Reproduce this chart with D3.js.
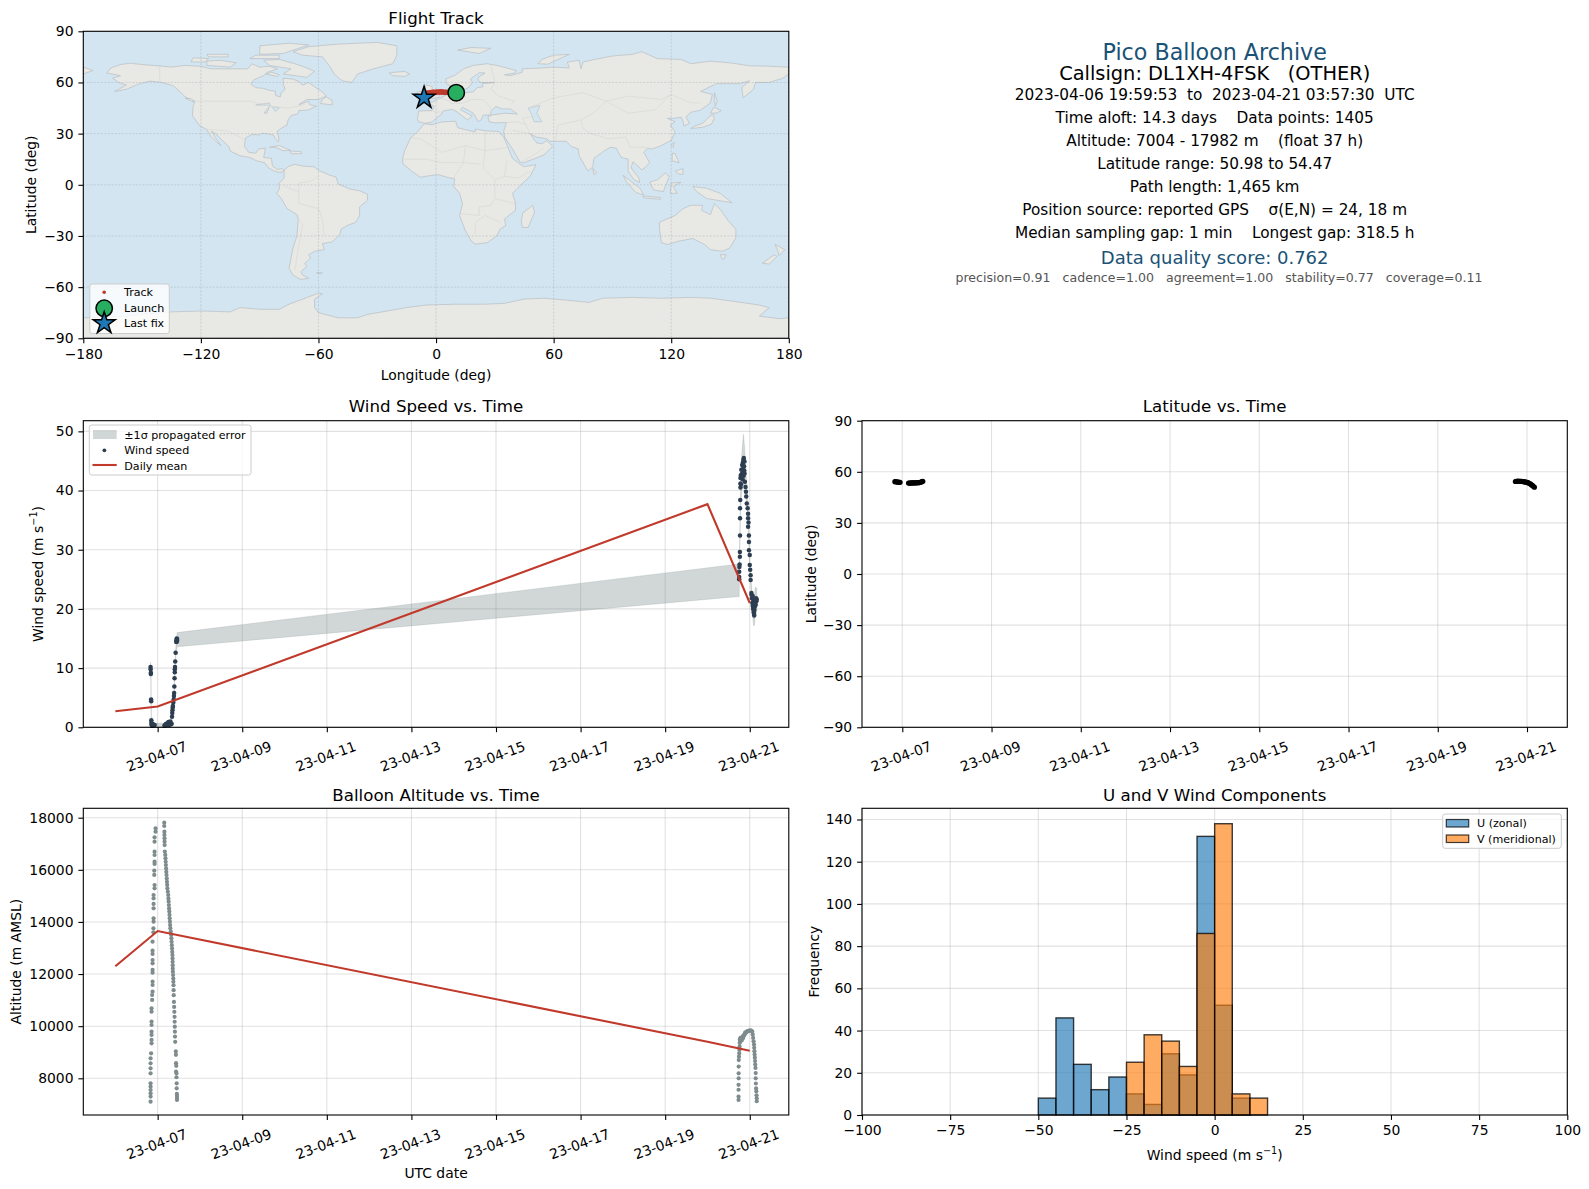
<!DOCTYPE html>
<html lang="en">
<head>
    <meta charset="UTF-8">
    <title>Pico Balloon Archive</title>
    <script src="https://d3js.org/d3.v7.min.js"></script>
    <style>
        body { margin: 0; background: #fff; }
        svg { display: block; }
        text { font-family: "DejaVu Sans", sans-serif; fill: #000; }
        .tick text { font-size: 13.9px; }
        .tick line { stroke: #000; stroke-width: 1.1px; }
        .axis .domain { display: none; }
        .grid { stroke: #b0b0b0; stroke-opacity: 0.38; stroke-width: 1.1px; }
        .frame { fill: none; stroke: #000; stroke-width: 1.1px; }
        .legendbox { fill: #fff; fill-opacity: 0.8; stroke: #ccc; stroke-width: 1px; }
        .legendtext { font-size: 11.1px; }
    </style>
</head>
<body>
<div id="chart"></div>
<script>
// days are counted from 2023-04-06 00:00 UTC
const dateTicks = ["2023-04-07", "2023-04-09", "2023-04-11", "2023-04-13", "2023-04-15", "2023-04-17", "2023-04-19", "2023-04-21"];
const lonTicks = [-180, -120, -60, 0, 60, 120, 180];
const latTicks = [-90, -60, -30, 0, 30, 60, 90];
const windTicks = [0, 10, 20, 30, 40, 50];
const altTicks = [8000, 10000, 12000, 14000, 16000, 18000];
const histXTicks = [-100, -75, -50, -25, 0, 25, 50, 75, 100];
const histYTicks = [0, 20, 40, 60, 80, 100, 120, 140];

const meanDay = [0, 1, 14, 15];
const meanWind = [2.7, 3.5, 37.7, 21.0];
const meanAlt = [12300, 13650, 9400, 9060];

const windDay = [0.832, 0.834, 0.838, 0.84, 0.845, 0.847, 0.85, 0.853, 0.857, 0.862, 0.87, 0.88, 0.89, 0.9, 0.915, 0.93,
    1.16, 1.175, 1.19, 1.2, 1.215, 1.23, 1.24, 1.255, 1.27, 1.28, 1.29, 1.3, 1.315, 1.33,
    1.34, 1.345, 1.35, 1.355, 1.36, 1.37, 1.38, 1.385, 1.39, 1.395, 1.4, 1.405, 1.405, 1.41, 1.415, 1.425, 1.44, 1.445, 1.45, 1.45, 1.455, 1.455, 1.46,
    14.75, 14.75, 14.75, 14.755, 14.76, 14.766, 14.766, 14.77, 14.77, 14.77, 14.775, 14.78, 14.78, 14.78, 14.79, 14.79, 14.8, 14.81, 14.82, 14.83, 14.83, 14.84, 14.845, 14.85, 14.855, 14.86, 14.865, 14.87, 14.875,
    14.877, 14.885, 14.9, 14.91, 14.916, 14.93, 14.95, 14.96, 14.96, 14.96, 14.97, 14.98, 14.98, 14.98, 15.0, 15.0, 15.01, 15.02, 15.02, 15.04,
    15.04, 15.05, 15.06, 15.07, 15.08, 15.09, 15.1, 15.105, 15.11, 15.12, 15.125, 15.13, 15.14, 15.15, 15.155, 15.165, 15.1, 15.08, 15.07];
const windSpeed = [10.2, 9.8, 9.0, 9.2, 4.7, 4.4, 1.2, 0.8, 0.5, 0.3, 0.45, 0.3, 0.5, 0.35, 0.4, 0.4,
    0.25, 0.4, 0.35, 0.6, 0.5, 0.4, 0.7, 0.9, 0.4, 0.6, 0.8, 1.0, 0.5, 0.6,
    1.8, 2.4, 2.9, 3.3, 3.6, 4.2, 4.7, 5.3, 5.8, 6.9, 8.3, 9.3, 9.8, 10.2, 11.1, 12.6, 14.4, 14.6, 14.8, 15.0, 14.7, 14.5, 14.9,
    25.0, 25.4, 26.3, 27.1, 27.5, 28.8, 29.6, 32.4, 35.3, 37.0, 38.4, 40.5, 41.2, 42.1, 42.6, 41.0, 43.5, 42.8, 44.3, 43.6, 41.9, 44.8, 43.0, 45.2, 42.5, 45.5, 44.1, 43.4, 44.9,
    42.9, 41.5, 40.6, 39.8, 39.0, 37.8, 37.0, 36.1, 35.3, 33.9, 34.6, 32.4, 31.3, 29.9, 29.1, 27.4, 26.6, 25.7, 24.9, 22.7,
    22.4, 21.8, 21.0, 20.5, 20.0, 19.5, 19.2, 18.9, 19.8, 20.4, 21.2, 21.5, 20.7, 21.8, 21.3, 21.6, 20.8, 21.6, 22.2];

const bandDay = [0.832, 0.84, 0.845, 0.85, 0.86, 0.93, 1.16, 1.33, 1.35, 1.39, 1.41, 1.43, 1.46, 14.75, 14.76, 14.78, 14.81, 14.85, 14.875, 14.9, 14.95, 15.0, 15.03, 15.05, 15.09, 15.11, 15.13, 15.165];
const bandLow = [9, 8, 3.8, 0.4, 0, 0, 0, 0.1, 2, 5, 9.3, 12, 13.6, 22.1, 27, 37, 40, 41, 40.5, 39.5, 36.3, 26.8, 23, 20.5, 17.2, 17.2, 19, 19.5];
const bandHigh = [11, 10.3, 5.4, 2, 0.9, 0.7, 0.7, 1.2, 3.8, 6.6, 11, 13.6, 16, 27.6, 30.5, 40, 46, 49.5, 47.5, 44, 38.5, 28.5, 25, 23, 21.5, 22, 23.7, 23.5];

const altDay = [0.951, 0.951, 0.927, 0.927, 0.927, 0.927, 0.927, 0.927, 0.92, 0.92, 0.927, 0.927, 0.904, 0.904, 0.904, 0.904, 0.904, 0.904, 0.9, 0.9, 0.88, 0.88, 0.88, 0.88, 0.88, 0.88, 0.88, 0.88, 0.88, 0.88, 0.87, 0.87, 0.856, 0.856, 0.856, 0.856, 0.856, 0.856, 0.856, 0.856, 0.845, 0.833, 0.833, 0.833, 0.833, 0.833, 0.833, 0.833, 0.833, 0.833, 0.833,
    1.156, 1.156, 1.16, 1.16, 1.163, 1.163, 1.165, 1.17, 1.18, 1.185, 1.19, 1.195, 1.2, 1.205, 1.21, 1.215, 1.22, 1.225, 1.23, 1.24, 1.25, 1.255, 1.26, 1.265, 1.27, 1.275, 1.28, 1.285, 1.29, 1.295, 1.3, 1.31, 1.32, 1.325, 1.33, 1.335, 1.34, 1.345, 1.35, 1.352, 1.354, 1.356, 1.358, 1.36, 1.365, 1.37, 1.372, 1.375, 1.377, 1.38, 1.385, 1.39, 1.395, 1.4, 1.402, 1.405, 1.408, 1.41, 1.415, 1.43, 1.432, 1.435, 1.435, 1.44, 1.445, 1.445, 1.45, 1.45, 1.455, 1.457, 1.457, 1.457,
    14.735, 14.735, 14.735, 14.735, 14.737, 14.737, 14.738, 14.74, 14.745, 14.75, 14.755, 14.76, 14.762, 14.765, 14.77, 14.775, 14.78, 14.79, 14.8, 14.81, 14.82, 14.83, 14.84, 14.85, 14.86, 14.87, 14.88, 14.89, 14.9, 14.92, 14.94, 14.96, 14.98, 15.0, 15.02, 15.04, 15.06, 15.07, 15.08, 15.09, 15.1, 15.105, 15.11, 15.115, 15.12, 15.125, 15.13, 15.135, 15.14, 15.14, 15.145, 15.15, 15.155, 15.16, 15.165, 15.165];
const altValue = [17592, 17465, 17247, 17081, 16697, 16569, 16313, 16224, 15968, 15802, 15418, 15290, 15034, 14906, 14689, 14523, 14139, 14011, 13755, 13602, 13244, 12899, 12771, 12540, 12412, 12157, 12054, 11709, 11581, 11325, 11197, 11006, 10686, 10558, 10174, 10046, 9790, 9663, 9471, 9343, 8959, 8767, 8575, 8384, 8192, 7808, 7680, 7551, 7424, 7300, 7102,
    17810, 17680, 17465, 17340, 17210, 17080, 16950, 16700, 16570, 16440, 16310, 16180, 16050, 15920, 15800, 15670, 15540, 15420, 15290, 15160, 15030, 14900, 14780, 14650, 14520, 14400, 14270, 14140, 14010, 13880, 13760, 13630, 13500, 13370, 13240, 13110, 12980, 12850, 12730, 12600, 12470, 12340, 12210, 12090, 11960, 11830, 11700, 11570, 11380, 11190, 10930, 10740, 10550, 10360, 10170, 9980, 9790, 9600, 9400, 9030, 8900, 8580, 8260, 8480, 8190, 8040, 7808, 7616, 7400, 7321, 7240, 7167,
    7170, 7300, 7560, 7750, 8000, 8190, 8450, 8700, 8830, 8960, 9090, 9220, 9350, 9480, 9400, 9540, 9500, 9540, 9560, 9450, 9540, 9600, 9540, 9620, 9660, 9640, 9700, 9750, 9730, 9780, 9800, 9810, 9830, 9820, 9840, 9820, 9790, 9680, 9550, 9420, 9300, 9170, 9040, 8910, 8790, 8660, 8530, 8400, 8200, 8000, 7800, 7610, 7500, 7350, 7230, 7120];

const latDay = [0.834, 0.85, 0.87, 0.89, 0.91, 0.93, 0.95, 1.14, 1.16, 1.18, 1.2, 1.22, 1.24, 1.26, 1.28, 1.3, 1.32, 1.34, 1.36, 1.38, 1.4, 1.42, 1.44, 1.46,
    14.74, 14.76, 14.78, 14.8, 14.82, 14.84, 14.86, 14.88, 14.9, 14.92, 14.94, 14.96, 14.98, 15.0, 15.02, 15.04, 15.06, 15.08, 15.1, 15.12, 15.14, 15.165];
const latValue = [54.2, 54.15, 54.1, 54.0, 53.9, 53.85, 53.8, 53.4, 53.4, 53.4, 53.45, 53.45, 53.45, 53.5, 53.5, 53.55, 53.55, 53.6, 53.6, 53.7, 53.8, 53.95, 54.2, 54.4,
    54.3, 54.4, 54.45, 54.47, 54.45, 54.4, 54.4, 54.35, 54.3, 54.2, 54.1, 54.0, 53.9, 53.8, 53.6, 53.4, 53.1, 52.8, 52.4, 52.0, 51.5, 50.98];

const trackLon = [10.3, 9.5, 8.5, 7.5, 6.5, 5.5, 4.5, 3.5, 2.5, 1.5, 0.5, -0.5, -1.5, -2.5, -3.5, -4.5, -5.2, -5.6, -5.9, -6.1];
const trackLat = [54, 54, 54.1, 54.2, 54.2, 54.3, 54.3, 54.4, 54.47, 54.4, 54.4, 54.3, 54.2, 54.1, 54, 53.7, 53.1, 52.5, 51.7, 50.98];

const histEdges = [-50, -45, -40, -35, -30, -25, -20, -15, -10, -5, 0, 5, 10, 15];
const histU = [8, 46, 24, 12, 18, 10, 5, 29, 19, 132, 52, 8, 0];
const histV = [0, 0, 0, 0, 0, 25, 38, 35, 23, 86, 138, 10, 8];

const landPolys = [
    // north america
    [[-168,65.5],[-166,68.5],[-161,70.5],[-156,71.3],[-150,70.5],[-141,69.7],[-135,69],[-128,70],[-120,69.5],[-115,68],[-108,68],[-100,68],[-96,68],[-94,71],[-90,69],[-85,69.5],[-81,68],[-86,66],[-88,64],[-93,61.5],[-94.5,59],[-92,57],[-88,56.5],[-85,55.3],[-82,55],[-82,52.5],[-79.5,51.5],[-79,54],[-77,56],[-78,59],[-78,62.5],[-73,62],[-70,60.5],[-68,58.5],[-65,60],[-62,57.5],[-58,54.5],[-56,52],[-60,50],[-66,50],[-70,47],[-65,49],[-64.5,47],[-61,46],[-65.5,43.8],[-70,43.5],[-70.5,41.7],[-74,40.5],[-75.5,38],[-76,35],[-78,33.8],[-81,31.5],[-80.2,27],[-80.5,25.2],[-82,27],[-83,29.2],[-85,29.7],[-89,30.2],[-90,29.2],[-94,29.5],[-97.2,27.5],[-97.8,22.5],[-95.5,19],[-92,18.5],[-90.5,21],[-87,21.5],[-88,16],[-84,15.5],[-83.5,11],[-81,9],[-79,9.5],[-77.5,8.7],[-78.5,7.5],[-80.5,7.3],[-83,8.3],[-85.5,10],[-87.5,13],[-91.5,14],[-95,16],[-100,17],[-105,19.7],[-105.5,22],[-109,26],[-112.5,30],[-114.7,31.5],[-112,26.5],[-109.7,23],[-112,25],[-115,28.5],[-117,32.5],[-120.5,34.5],[-122.5,37.5],[-124.3,40.5],[-124,46],[-123,49],[-128,51.5],[-130.5,54.5],[-134,58],[-140,60],[-146,60.8],[-152,59],[-158,56],[-164,54.7],[-158,58.5],[-162,60],[-165,62.5],[-161,64]],
    [[-73,78],[-65,81],[-50,82.5],[-30,83.5],[-20,81.5],[-20,76],[-22,71],[-32,68],[-40,65],[-43,60],[-48,61],[-52,65],[-54,69],[-58,75],[-68,76]],
    [[-80,73.5],[-72,71],[-67,69],[-62,66.5],[-66,63],[-72,64],[-78,65],[-74,68],[-85,70],[-88,73]],
    [[-117,70],[-105,69],[-102,71.5],[-110,73],[-117,72.5]],
    [[-90,76.5],[-78,77],[-65,82],[-75,83],[-90,81.5]],
    [[-125,72],[-118,72],[-116,74],[-124,74.5]],
    [[-95,74],[-80,74],[-80,76],[-92,76]],
    [[-116,75],[-106,75],[-106,76.5],[-117,76.5]],
    [[-87,65],[-81,63.5],[-80,64.5],[-84,66]],
    [[-59,47.7],[-53,46.8],[-53,49.5],[-56,51.5],[-58,50]],
    [[-128,50.7],[-123.5,48.5],[-125,50.5]],
    [[-85,22],[-80,23],[-74.2,20.2],[-78,20],[-82,22]],
    [[-74.5,19.8],[-69,19.5],[-68.5,18.3],[-74,18.2]],
    // south america
    [[-77.5,8.7],[-75,11],[-72,12],[-68,11],[-62,10.5],[-60,8.5],[-55,6],[-51,4.5],[-50,0.5],[-44,-2.5],[-39,-3.5],[-35,-5.5],[-35,-9],[-39,-13],[-39,-18],[-41,-22],[-45,-23.7],[-48.5,-26],[-49,-29],[-53,-33.5],[-58,-34.5],[-57,-38],[-62,-39],[-65,-41],[-64,-43],[-67,-46],[-66,-48],[-69,-51],[-68,-53],[-65,-54.8],[-69,-55.5],[-73,-53],[-75,-49],[-74,-43],[-73,-37],[-71,-30],[-70.3,-20],[-71,-17.5],[-76,-14],[-79,-8],[-81.3,-5],[-80,-2.5],[-80,1],[-77.5,4],[-77.5,7]],
    [[-61,-51.5],[-58,-51.5],[-59,-52.3]],
    // africa
    [[-6,35.8],[-2,35.2],[3,36.9],[10,37.3],[11,33.5],[15,32.3],[20,31],[20,32.7],[25,31.7],[32,31.2],[34.5,28],[37,21],[39,15.5],[43,12],[45,10.6],[51,11.8],[48,5],[42,-1.5],[39,-5],[40.5,-10.5],[40.5,-15],[35,-20],[35.5,-24],[32.7,-26],[31,-30],[26,-34],[20,-34.8],[18,-33],[15,-27],[12,-18],[13.5,-11],[12,-5],[9,-1],[9.5,3.5],[6,4.3],[1,6],[-4,5.2],[-8,4.4],[-13,8.5],[-17,12.5],[-17,16],[-16,20],[-13,27.5],[-9.5,31]],
    [[49.3,-12],[50.3,-16],[47,-25],[44,-25],[43.5,-21],[44.3,-16.5]],
    // eurasia
    [[-9,37],[-9.5,38.8],[-8.8,43.3],[-2,43.5],[-1,46],[-4.7,48.3],[-1.5,48.7],[1.5,50.5],[4,52],[7,53.5],[8.5,55],[8.2,57],[10.5,57.5],[10.5,54.5],[14,54],[19,54.5],[21,57],[24,57.5],[23.5,59.3],[30,60],[23,60],[21.5,61],[21.5,63],[25,65.5],[22,65.7],[17.5,62],[18.5,60],[16.5,57],[14,55.5],[12.7,56],[11,59],[8,58],[5.5,59],[5,62],[10,64.5],[14,68],[19,70],[26,71],[31,70],[41,67],[40,65.5],[35,64.5],[38,64],[44,66],[44,68],[54,68.5],[60,69],[68,68.5],[67,72],[73,73],[74,68],[75,72],[81,73.5],[90,75.5],[100,76.5],[105,78],[113,74],[125,73.5],[130,71],[140,72.5],[150,71.5],[160,69.8],[170,69.5],[180,69],[180,65],[177,62.5],[170,60],[163,60],[162,56],[156.7,51],[156,57],[160,61],[155,59.3],[143,59.3],[135,54.7],[141,53],[140,48],[135,43.8],[130,42.5],[127.5,39.8],[129.3,36],[126.5,34.5],[126,37.5],[125,39.7],[121.5,39],[118,39],[122,37],[119.5,35],[122,31],[120,26],[114,22.5],[110,21],[108,21.5],[106,19],[109,13],[107,10.5],[105,8.7],[103,11],[100.5,13.5],[99.5,10],[103.5,4],[104,1.3],[101,3],[98,8],[98,15],[94.5,16],[92,21.5],[89,22],[86,20],[80.5,15.5],[80,10.5],[77.5,8],[73,17],[72.5,21],[69,22.5],[66.5,25.5],[58,25.5],[56.5,27],[51,28],[48,30],[50,26.5],[51.5,24.5],[54,24],[56.5,26],[59.5,22.5],[55,17.5],[45,13],[43,13],[39,21],[35,28],[34.5,31.5],[36,36.5],[30,36.3],[27,37],[26.5,40],[29,41],[35,42],[41.5,41.5],[38,44.5],[33.5,44.5],[30.5,46],[28,43],[28,41],[24,40.8],[23,38],[21.5,37],[19.5,41],[19,42],[13.5,45.5],[12.5,44],[18.5,40.3],[16,38],[11,42.5],[8.5,44.3],[3.5,43.2],[3,41.5],[0,39],[-2,36.8],[-5.5,36]],
    [[-180,65],[-175,67],[-180,69]],
    [[-5.5,50],[1.5,51.2],[1.5,53],[-2,56],[-2,57.6],[-5,58.6],[-6,56],[-3,54],[-5,52]],
    [[-10,52],[-6,52.2],[-6,55],[-9.5,54.5]],
    [[-24,65.5],[-22,64],[-16,63.5],[-13.5,65],[-16,66.5],[-21,66]],
    [[11,79],[22,77],[28,80],[18,80.5]],
    [[52,71],[57,70.7],[68,76.5],[60,76],[54,73.5]],
    [[142,54],[143.5,49],[142.5,46],[142,50]],
    [[130,33],[132,34.5],[136,36],[140,40.5],[141.5,41],[142,39],[140.5,35.5],[136,33.7]],
    [[140,42],[141.7,45.5],[145.5,43.5],[143,42]],
    [[120,23],[121.5,25],[121,22]],
    [[80,9.7],[82,7],[80.5,6]],
    [[120.5,18.5],[122,18.3],[124,13],[120.5,14]],
    [[122,8],[126,9.5],[126,6],[123.5,6.5]],
    [[95.5,5.5],[104,-2],[106,-6],[102,-4.5],[97,2]],
    [[105.5,-6.5],[114.5,-7.5],[114.5,-8.5],[106,-7.7]],
    [[109,1.5],[113,3],[117,7],[119,5],[117.5,0.5],[116,-4],[111,-3]],
    [[119.5,-5],[120,1],[125,1.5],[121,-1],[123,-5]],
    [[131,-1],[138,-2],[145,-5],[151,-10.5],[143,-9],[138,-8],[133,-4]],
    // australia and new zealand
    [[114,-22],[122,-18],[126,-14],[130,-12],[136,-12],[135.5,-15],[140,-17.5],[142,-11],[145.5,-15],[149,-21],[153,-26],[153,-31],[150,-37],[146,-39],[140,-38],[137,-35],[131,-31.5],[124,-33],[118,-35],[115,-34],[114,-26]],
    [[145,-41],[148,-41],[147,-43.5],[146,-43.5]],
    [[173,-35],[178,-38],[175,-41.5],[174.5,-39]],
    [[172.5,-41],[174,-42],[170,-46.5],[166.5,-46]],
    // antarctica
    [[-180,-90],[-180,-78],[-158,-77],[-150,-76],[-135,-74.5],[-120,-74],[-105,-74.5],[-100,-72],[-90,-73],[-80,-73],[-75,-70],[-68,-67],[-60,-63.5],[-58,-64],[-62,-67],[-62,-72],[-60,-75],[-50,-78],[-40,-78],[-35,-76],[-25,-74],[-15,-72],[-5,-70.5],[10,-70],[25,-70],[35,-69.5],[45,-67],[55,-66.5],[70,-68],[78,-69],[85,-66.5],[100,-66],[115,-66.5],[130,-66],[140,-66.5],[150,-68],[165,-70.5],[170,-72],[165,-77],[175,-78.5],[180,-78],[180,-90]]
];
const lakePolys = [
    [[47,45],[53,46.5],[51.5,42],[54,37],[50,37],[49,40.5]],
    [[-92,46.8],[-85,48],[-84.5,46.5],[-88,46.7]],
    [[-87.8,42],[-85,46],[-86.3,42]],
    [[-84,46],[-80,45],[-82,43]]
];
const borderLines = [
    [[-70,-4],[-70,-11],[-60,-14],[-58,-20],[-57,-30]], [[-72,-18],[-68,-23],[-70,-35],[-72,-50]], [[-60,5],[-64,2],[-70,1],[-70,-4]], [[-78,0],[-75,-2],[-70,-4]],
    [[-141,60],[-141,69.7]], [[-123,49],[-95,49],[-84,46],[-75,45],[-67,47]], [[-117,32.5],[-106,31.5],[-97,26]],
    [[-13,27.5],[-8,27],[3,19],[15,23],[25,20],[37,22]], [[25,31],[25,20],[24,10],[30,3],[30,-8],[28,-12],[22,-13],[22,-18],[12,-17]], [[-17,15],[-5,15],[3,13],[14,13],[23,12]], [[14,13],[15,23]], [[9,4],[14,13]], [[30,3],[35,5],[42,4],[48,8]], [[35,5],[36,14]], [[40,-11],[30,-8]], [[20,-29],[20,-22],[25,-18],[33,-22]],
    [[28,70],[30,60],[28,56],[32,52],[40,49],[38,47]], [[47,45],[60,51],[75,54],[87,49],[98,52],[115,50],[120,53],[130,48],[135,48]], [[87,49],[80,42],[74,38],[62,35],[61,26]], [[74,38],[75,33],[79,30],[88,27],[97,28],[99,22],[105,22],[108,21.5]], [[48,30],[46,35],[44,39],[49,40]], [[36,36.5],[42,37],[46,35]], [[-1.5,43],[3,42.5]], [[2,51],[7,49],[7.5,47.5],[14,48],[18,50],[24,50],[28,45],[28,43]], [[14,54],[15,51]], [[87,49],[98,42],[112,44],[120,53]], [[43,13],[52,19],[55,22]], [[39,32],[48,30]]
];

const W = 1589, H = 1189;
const LX0 = 83.3, LX1 = 788.8, RX0 = 862, RX1 = 1567.3;
const ROW1 = [31.3, 338.3], ROW2 = [420.7, 727.3], ROW3 = [808.3, 1115];
const RED = "#c0392b", NAVY = "#2c3e50", SLATE = "#7f8c8d";
const intFmt = d3.format("d");

const svg = d3.select("#chart").append("svg").attr("width", W).attr("height", H);
svg.append("defs").append("clipPath").attr("id", "mapclip").append("rect")
    .attr("x", LX0).attr("y", ROW1[0]).attr("width", LX1 - LX0).attr("height", ROW1[1] - ROW1[0]);

const toDate = d => new Date(Date.UTC(2023, 3, 6) + d * 864e5);
const parseDay = d3.utcParse("%Y-%m-%d");
const fmtDay = d3.utcFormat("%y-%m-%d");

function gridAndAxes(g, x, y, xTicks, yTicks, box, xFmt, rotate) {
    g.append("g").selectAll("line").data(xTicks).join("line").attr("class", "grid")
        .attr("x1", d => x(d)).attr("x2", d => x(d)).attr("y1", box[2]).attr("y2", box[3]);
    g.append("g").selectAll("line").data(yTicks).join("line").attr("class", "grid")
        .attr("x1", box[0]).attr("x2", box[1]).attr("y1", d => y(d)).attr("y2", d => y(d));
    return function () {
        g.append("rect").attr("class", "frame").attr("x", box[0]).attr("y", box[2])
            .attr("width", box[1] - box[0]).attr("height", box[3] - box[2]);
        const ax = g.append("g").attr("class", "axis").attr("transform", `translate(0,${box[3]})`)
            .call(d3.axisBottom(x).tickValues(xTicks).tickSize(4.9).tickPadding(5.6).tickFormat(xFmt));
        if (rotate) {
            ax.selectAll(".tick text").attr("y", 0).attr("dy", null).attr("dominant-baseline", "central")
                .attr("transform", "translate(-1.5,29) rotate(-20)");
        }
        g.append("g").attr("class", "axis").attr("transform", `translate(${box[0]},0)`)
            .call(d3.axisLeft(y).tickValues(yTicks).tickSize(4.9).tickPadding(4.9).tickFormat(intFmt));
    };
}

function title(t, x, y) {
    svg.append("text").attr("x", x).attr("y", y).attr("text-anchor", "middle").attr("dominant-baseline", "central")
        .style("font-size", "16.67px").text(t);
}
function xLabel(x, y) {
    return svg.append("text").attr("x", x).attr("y", y).attr("text-anchor", "middle").attr("dominant-baseline", "central")
        .style("font-size", "13.9px");
}
function yLabel(x, y) {
    return svg.append("text").attr("transform", `translate(${x},${y}) rotate(-90)`).attr("text-anchor", "middle")
        .attr("dominant-baseline", "central").style("font-size", "13.9px");
}
function windUnit(sel, prefix) {
    sel.append("tspan").text(prefix + "(m s");
    sel.append("tspan").attr("dy", -5).style("font-size", "9.7px").text("\u22121");
    sel.append("tspan").attr("dy", 5).text(")");
}

// flight track map
const mapX = d3.scaleLinear().domain([-180, 180]).range([LX0, LX1]);
const mapY = d3.scaleLinear().domain([-90, 90]).range([ROW1[1], ROW1[0]]);
const mapG = svg.append("g");
const mapLine = d3.line().x(d => mapX(d[0])).y(d => mapY(d[1]));
mapG.append("rect").attr("x", LX0).attr("y", ROW1[0]).attr("width", LX1 - LX0).attr("height", ROW1[1] - ROW1[0]).attr("fill", "#d3e5f1");
const landG = mapG.append("g").attr("clip-path", "url(#mapclip)");
landG.selectAll("path.land").data(landPolys).join("path").attr("class", "land")
    .attr("d", d => mapLine(d) + "Z").attr("fill", "#e8e8e4").attr("stroke", "#b7bfc3").attr("stroke-width", 0.7);
landG.selectAll("path.lake").data(lakePolys).join("path").attr("class", "lake")
    .attr("d", d => mapLine(d) + "Z").attr("fill", "#d3e5f1").attr("stroke", "#b7bfc3").attr("stroke-width", 0.6);
landG.selectAll("path.border").data(borderLines).join("path").attr("class", "border")
    .attr("d", mapLine).attr("fill", "none").attr("stroke", "#d9d9d5").attr("stroke-width", 0.7);
mapG.append("g").selectAll("line").data(lonTicks).join("line")
    .attr("x1", d => mapX(d)).attr("x2", d => mapX(d)).attr("y1", ROW1[0]).attr("y2", ROW1[1])
    .attr("stroke", "#8a9599").attr("stroke-opacity", 0.4).attr("stroke-width", 0.7).attr("stroke-dasharray", "2 1.5");
mapG.append("g").selectAll("line").data(latTicks).join("line")
    .attr("x1", LX0).attr("x2", LX1).attr("y1", d => mapY(d)).attr("y2", d => mapY(d))
    .attr("stroke", "#8a9599").attr("stroke-opacity", 0.4).attr("stroke-width", 0.7).attr("stroke-dasharray", "2 1.5");
mapG.append("g").selectAll("circle").data(trackLon).join("circle")
    .attr("cx", d => mapX(d)).attr("cy", (d, i) => mapY(trackLat[i])).attr("r", 2.8).attr("fill", RED);
mapG.append("circle").attr("cx", mapX(trackLon[0])).attr("cy", mapY(trackLat[0])).attr("r", 8.2)
    .attr("fill", "#27ae60").attr("stroke", "#000").attr("stroke-width", 1.5);
const star = d3.symbol().type(d3.symbolStar).size(150);
mapG.append("path").attr("d", star)
    .attr("transform", `translate(${mapX(trackLon[trackLon.length - 1])},${mapY(trackLat[trackLat.length - 1])})`)
    .attr("fill", "#1f77b4").attr("stroke", "#000").attr("stroke-width", 1.5);
mapG.append("rect").attr("class", "frame").attr("x", LX0).attr("y", ROW1[0]).attr("width", LX1 - LX0).attr("height", ROW1[1] - ROW1[0]);
mapG.append("g").attr("class", "axis").attr("transform", `translate(0,${ROW1[1]})`)
    .call(d3.axisBottom(mapX).tickValues(lonTicks).tickSize(4.9).tickPadding(5.6));
mapG.append("g").attr("class", "axis").attr("transform", `translate(${LX0},0)`)
    .call(d3.axisLeft(mapY).tickValues(latTicks).tickSize(4.9).tickPadding(4.9));
title("Flight Track", (LX0 + LX1) / 2, 18);
xLabel((LX0 + LX1) / 2, 374.5).text("Longitude (deg)");
yLabel(31, (ROW1[0] + ROW1[1]) / 2).text("Latitude (deg)");

// map legend
const mapLeg = svg.append("g");
mapLeg.append("rect").attr("class", "legendbox").attr("x", 89.8).attr("y", 284).attr("width", 79.5).attr("height", 49.5).attr("rx", 2.5);
mapLeg.append("circle").attr("cx", 104.2).attr("cy", 292.3).attr("r", 1.8).attr("fill", RED);
mapLeg.append("circle").attr("cx", 104.2).attr("cy", 308.3).attr("r", 8.2).attr("fill", "#27ae60").attr("stroke", "#000").attr("stroke-width", 1.5);
mapLeg.append("path").attr("d", star).attr("transform", "translate(104.2,323.3)").attr("fill", "#1f77b4").attr("stroke", "#000").attr("stroke-width", 1.5);
[["Track", 292.3], ["Launch", 308.3], ["Last fix", 323.3]].forEach(e => {
    mapLeg.append("text").attr("class", "legendtext").attr("x", 124).attr("y", e[1]).attr("dominant-baseline", "central").text(e[0]);
});

// info block
const infoLines = [
    ["Pico Balloon Archive", 51.5, 22.2, "#1a5276", 1214.7],
    ["Callsign: DL1XH-4FSK   (OTHER)", 73.8, 19.4, "#000", 1214.7],
    ["2023-04-06 19:59:53  to  2023-04-21 03:57:30  UTC", 95.3, 15.3, "#000", 1214.7],
    ["Time aloft: 14.3 days    Data points: 1405", 118.3, 15.3, "#000", 1214.7],
    ["Altitude: 7004 - 17982 m    (float 37 h)", 141.3, 15.3, "#000", 1214.7],
    ["Latitude range: 50.98 to 54.47", 164.3, 15.3, "#000", 1214.7],
    ["Path length: 1,465 km", 187.3, 15.3, "#000", 1214.7],
    ["Position source: reported GPS    \u03c3(E,N) = 24, 18 m", 210.3, 15.3, "#000", 1214.7],
    ["Median sampling gap: 1 min    Longest gap: 318.5 h", 233.3, 15.3, "#000", 1214.7],
    ["Data quality score: 0.762", 257.5, 18, "#1a5276", 1214.7],
    ["precision=0.91   cadence=1.00   agreement=1.00   stability=0.77   coverage=0.11", 277.7, 12.57, "#555", 1219]
];
svg.append("g").selectAll("text").data(infoLines).join("text")
    .attr("x", d => d[4]).attr("y", d => d[1]).attr("text-anchor", "middle").attr("dominant-baseline", "central")
    .style("white-space", "pre")
    .style("font-size", d => d[2] + "px").style("fill", d => d[3]).text(d => d[0]);

const tickDates = dateTicks.map(parseDay);

// wind speed
const leftT = d3.scaleUtc().domain([toDate(-0.758), toDate(15.923)]).range([LX0, LX1]);
const windY = d3.scaleLinear().domain([0, 51.8]).range([ROW2[1], ROW2[0]]);
const windG = svg.append("g");
const finishWind = gridAndAxes(windG, leftT, windY, tickDates, windTicks, [LX0, LX1, ROW2[0], ROW2[1]], fmtDay, true);
const band = d3.area().x(d => leftT(toDate(d))).y0((d, i) => windY(bandLow[i])).y1((d, i) => windY(bandHigh[i]));
windG.append("path").attr("d", band(bandDay)).attr("fill", SLATE).attr("fill-opacity", 0.36).attr("stroke", SLATE).attr("stroke-opacity", 0.2);
windG.append("g").selectAll("circle").data(windDay).join("circle")
    .attr("cx", d => leftT(toDate(d))).attr("cy", (d, i) => windY(windSpeed[i])).attr("r", 2.25).attr("fill", NAVY);
const windMean = d3.line().x(d => leftT(toDate(d))).y((d, i) => windY(meanWind[i]));
windG.append("path").attr("d", windMean(meanDay)).attr("fill", "none").attr("stroke", RED).attr("stroke-width", 2.1);
finishWind();
title("Wind Speed vs. Time", (LX0 + LX1) / 2, 406.5);
windUnit(yLabel(37.5, (ROW2[0] + ROW2[1]) / 2), "Wind speed ");

const windLeg = svg.append("g");
windLeg.append("rect").attr("class", "legendbox").attr("x", 89.3).attr("y", 425).attr("width", 161.7).attr("height", 50).attr("rx", 2.5);
windLeg.append("rect").attr("x", 93).attr("y", 430).attr("width", 23.7).attr("height", 9).attr("fill", SLATE).attr("fill-opacity", 0.36);
windLeg.append("circle").attr("cx", 104.4).attr("cy", 450.3).attr("r", 1.9).attr("fill", NAVY);
windLeg.append("line").attr("x1", 92.5).attr("x2", 116.7).attr("y1", 465).attr("y2", 465).attr("stroke", RED).attr("stroke-width", 2.1);
[["\u00b11\u03c3 propagated error", 435.5], ["Wind speed", 450.3], ["Daily mean", 466]].forEach(e => {
    windLeg.append("text").attr("class", "legendtext").attr("x", 124.3).attr("y", e[1]).attr("dominant-baseline", "central").text(e[0]);
});

// latitude
const rightT = d3.scaleUtc().domain([toDate(0.097), toDate(15.903)]).range([RX0, RX1]);
const latY = d3.scaleLinear().domain([-90, 90]).range([ROW2[1], ROW2[0]]);
const latG = svg.append("g");
const finishLat = gridAndAxes(latG, rightT, latY, tickDates, latTicks, [RX0, RX1, ROW2[0], ROW2[1]], fmtDay, true);
latG.append("g").selectAll("circle").data(latDay).join("circle")
    .attr("cx", d => rightT(toDate(d))).attr("cy", (d, i) => latY(latValue[i])).attr("r", 2.6).attr("fill", "#000");
finishLat();
title("Latitude vs. Time", (RX0 + RX1) / 2, 406.5);
yLabel(811, (ROW2[0] + ROW2[1]) / 2).text("Latitude (deg)");

// altitude
const altY = d3.scaleLinear().domain([6592, 18360]).range([ROW3[1], ROW3[0]]);
const altG = svg.append("g");
const finishAlt = gridAndAxes(altG, leftT, altY, tickDates, altTicks, [LX0, LX1, ROW3[0], ROW3[1]], fmtDay, true);
altG.append("g").selectAll("circle").data(altDay).join("circle")
    .attr("cx", d => leftT(toDate(d))).attr("cy", (d, i) => altY(altValue[i])).attr("r", 2.1).attr("fill", SLATE);
const altMean = d3.line().x(d => leftT(toDate(d))).y((d, i) => altY(meanAlt[i]));
altG.append("path").attr("d", altMean(meanDay)).attr("fill", "none").attr("stroke", RED).attr("stroke-width", 2.1);
finishAlt();
title("Balloon Altitude vs. Time", (LX0 + LX1) / 2, 795);
yLabel(16, (ROW3[0] + ROW3[1]) / 2).text("Altitude (m AMSL)");
xLabel((LX0 + LX1) / 2, 1172.5).text("UTC date");

// wind component histogram
const histX = d3.scaleLinear().domain([-100, 100]).range([RX0, RX1]);
const histY = d3.scaleLinear().domain([0, 145.3]).range([ROW3[1], ROW3[0]]);
const histG = svg.append("g");
const finishHist = gridAndAxes(histG, histX, histY, histXTicks, histYTicks, [RX0, RX1, ROW3[0], ROW3[1]], null, false);
[[histU, "#1f77b4"], [histV, "#ff7f0e"]].forEach(s => {
    histG.append("g").selectAll("rect").data(s[0]).join("rect")
        .attr("x", (d, i) => histX(histEdges[i]))
        .attr("width", (d, i) => histX(histEdges[i + 1]) - histX(histEdges[i]))
        .attr("y", d => histY(d)).attr("height", d => histY(0) - histY(d))
        .attr("fill", s[1]).attr("fill-opacity", 0.65).attr("stroke", "#000").attr("stroke-opacity", 0.75).attr("stroke-width", 1.4);
});
finishHist();
title("U and V Wind Components", (RX0 + RX1) / 2, 795);
yLabel(814, (ROW3[0] + ROW3[1]) / 2).text("Frequency");
windUnit(xLabel((RX0 + RX1) / 2, 1155), "Wind speed ");

const histLeg = svg.append("g");
histLeg.append("rect").attr("class", "legendbox").attr("x", 1442.7).attr("y", 814).attr("width", 118.6).attr("height", 34.3).attr("rx", 2.5);
[["U (zonal)", "#1f77b4", 823], ["V (meridional)", "#ff7f0e", 838.5]].forEach(e => {
    histLeg.append("rect").attr("x", 1446.3).attr("y", e[2] - 3.5).attr("width", 22.4).attr("height", 7.5)
        .attr("fill", e[1]).attr("fill-opacity", 0.65).attr("stroke", "#000").attr("stroke-opacity", 0.75).attr("stroke-width", 1.2);
    histLeg.append("text").attr("class", "legendtext").attr("x", 1477).attr("y", e[2] + 0.5).attr("dominant-baseline", "central").text(e[0]);
});
</script>
</body>
</html>
